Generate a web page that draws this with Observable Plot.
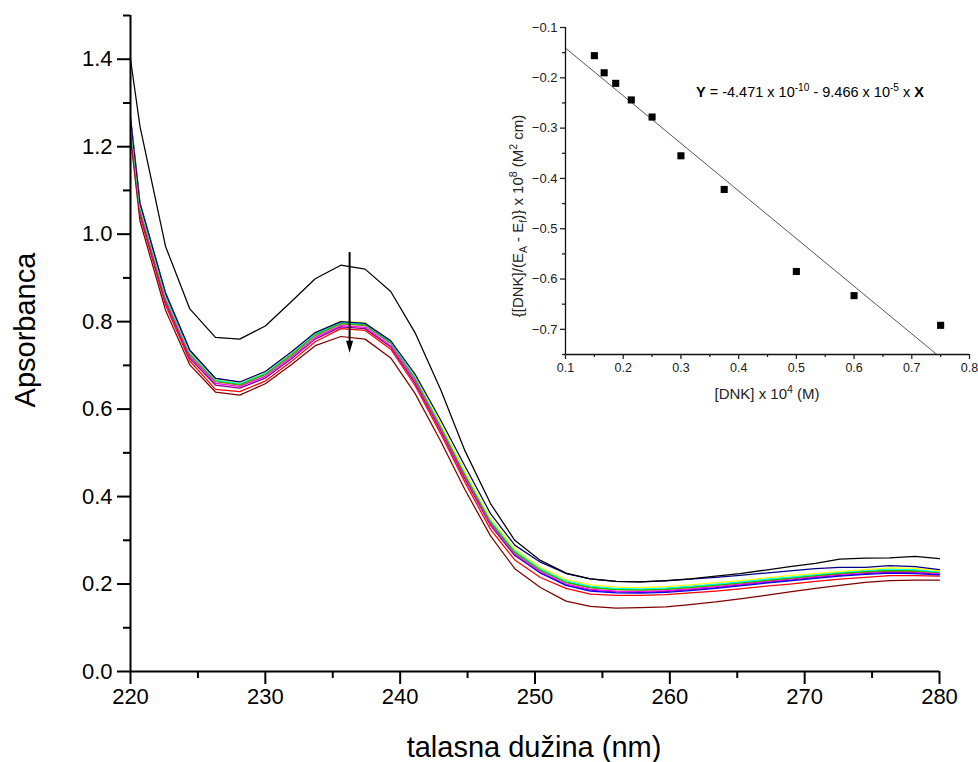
<!DOCTYPE html>
<html>
<head>
<meta charset="utf-8">
<script src="https://cdn.jsdelivr.net/npm/d3@7"></script>
<script src="https://cdn.jsdelivr.net/npm/@observablehq/plot@0.6"></script>
<style>
  html, body { margin: 0; padding: 0; background: #fff; }
  #wrap { position: relative; width: 978px; height: 762px; overflow: hidden; }
  #inset { position: absolute; left: 480px; top: 0px; }
  svg { font-family: "Liberation Sans", Arial, sans-serif; }
</style>
</head>
<body>
<div id="wrap"><div id="main"></div><div id="inset"></div></div>
<script>
// ---------------- main chart data ----------------
const wavelengths = [220.0, 220.7, 222.6, 224.4, 226.3, 228.1, 230.0, 231.9, 233.7, 235.6, 237.4, 239.3, 241.1, 243.0, 244.8, 246.7, 248.5, 250.4, 252.3, 254.1, 256.0, 257.8, 259.7, 261.5, 263.4, 265.2, 267.1, 268.9, 270.8, 272.6, 274.5, 276.3, 278.2, 280.0];

const absBlack  = [1.400, 1.247, 0.972, 0.829, 0.764, 0.760, 0.790, 0.845, 0.898, 0.929, 0.920, 0.869, 0.775, 0.645, 0.505, 0.384, 0.300, 0.254, 0.225, 0.212, 0.206, 0.205, 0.208, 0.212, 0.218, 0.224, 0.232, 0.240, 0.247, 0.257, 0.259, 0.260, 0.263, 0.258];
const absNavy   = [1.265, 1.070, 0.864, 0.734, 0.670, 0.662, 0.686, 0.730, 0.775, 0.800, 0.796, 0.756, 0.680, 0.575, 0.470, 0.361, 0.289, 0.250, 0.224, 0.212, 0.206, 0.205, 0.207, 0.211, 0.215, 0.220, 0.225, 0.230, 0.235, 0.238, 0.238, 0.242, 0.240, 0.233];
const absYellow = [1.262, 1.068, 0.862, 0.732, 0.669, 0.661, 0.685, 0.729, 0.775, 0.801, 0.797, 0.757, 0.678, 0.568, 0.458, 0.350, 0.280, 0.238, 0.210, 0.198, 0.193, 0.192, 0.194, 0.198, 0.203, 0.208, 0.214, 0.219, 0.224, 0.229, 0.233, 0.237, 0.236, 0.230];
const absCyan   = [1.258, 1.064, 0.858, 0.729, 0.667, 0.659, 0.683, 0.727, 0.773, 0.799, 0.795, 0.754, 0.675, 0.565, 0.455, 0.347, 0.277, 0.235, 0.207, 0.195, 0.190, 0.189, 0.191, 0.195, 0.200, 0.205, 0.211, 0.216, 0.222, 0.227, 0.231, 0.234, 0.233, 0.228];
const absGreen  = [1.255, 1.061, 0.856, 0.727, 0.665, 0.657, 0.681, 0.725, 0.771, 0.797, 0.793, 0.752, 0.672, 0.562, 0.452, 0.344, 0.274, 0.233, 0.205, 0.193, 0.188, 0.187, 0.189, 0.193, 0.198, 0.203, 0.209, 0.214, 0.220, 0.225, 0.229, 0.232, 0.231, 0.227];
const absOlive  = [1.252, 1.058, 0.853, 0.724, 0.663, 0.655, 0.679, 0.722, 0.768, 0.795, 0.791, 0.750, 0.669, 0.559, 0.449, 0.341, 0.271, 0.231, 0.203, 0.191, 0.187, 0.186, 0.188, 0.192, 0.197, 0.202, 0.208, 0.213, 0.219, 0.224, 0.228, 0.230, 0.229, 0.226];
const absMagenta= [1.248, 1.054, 0.849, 0.720, 0.659, 0.652, 0.675, 0.718, 0.764, 0.791, 0.787, 0.745, 0.664, 0.555, 0.445, 0.337, 0.268, 0.228, 0.200, 0.188, 0.184, 0.183, 0.185, 0.189, 0.194, 0.200, 0.206, 0.211, 0.217, 0.222, 0.226, 0.229, 0.228, 0.224];
const absPurple = [1.244, 1.050, 0.845, 0.716, 0.655, 0.648, 0.671, 0.714, 0.760, 0.788, 0.784, 0.742, 0.660, 0.551, 0.441, 0.334, 0.265, 0.225, 0.198, 0.186, 0.182, 0.181, 0.183, 0.187, 0.192, 0.198, 0.204, 0.209, 0.215, 0.220, 0.224, 0.227, 0.226, 0.222];
const absBlue   = [1.268, 1.072, 0.866, 0.735, 0.670, 0.661, 0.685, 0.729, 0.774, 0.799, 0.795, 0.755, 0.676, 0.562, 0.448, 0.338, 0.267, 0.226, 0.197, 0.184, 0.180, 0.179, 0.181, 0.185, 0.190, 0.196, 0.202, 0.207, 0.213, 0.218, 0.222, 0.225, 0.224, 0.221];
const absRed    = [1.235, 1.042, 0.838, 0.710, 0.645, 0.640, 0.664, 0.708, 0.754, 0.784, 0.780, 0.737, 0.654, 0.544, 0.433, 0.325, 0.255, 0.215, 0.190, 0.177, 0.174, 0.174, 0.176, 0.180, 0.184, 0.189, 0.195, 0.200, 0.206, 0.211, 0.215, 0.219, 0.219, 0.218];
const absWine   = [1.222, 1.030, 0.826, 0.701, 0.639, 0.632, 0.658, 0.701, 0.745, 0.766, 0.760, 0.717, 0.636, 0.527, 0.416, 0.310, 0.235, 0.192, 0.161, 0.149, 0.145, 0.146, 0.148, 0.153, 0.159, 0.166, 0.174, 0.182, 0.190, 0.197, 0.204, 0.208, 0.209, 0.209];

// drawing order (bottom first) and colours
const seriesValues = [absWine, absRed, absPurple, absBlue, absMagenta, absOlive, absGreen, absCyan, absYellow, absNavy, absBlack];
const seriesColors = ["#800000", "#ff0000", "#800080", "#0000ff", "#ff00ff", "#808000", "#00c800", "#00ffff", "#ffff00", "#000080", "#000000"];

const xMajorTicks = [220, 230, 240, 250, 260, 270, 280];
const xMinorTicks = [225, 235, 245, 255, 265, 275];
const yMajorTicks = [0.0, 0.2, 0.4, 0.6, 0.8, 1.0, 1.2, 1.4];
const yMinorTicks = [0.1, 0.3, 0.5, 0.7, 0.9, 1.1, 1.3, 1.5];

// arrow (wavelength, absorbance top -> tip)
const arrowX = [236.25];
const arrowY = [0.959, 0.729];

// ---------------- inset data ----------------
const dnk      = [0.150, 0.167, 0.187, 0.214, 0.250, 0.300, 0.375, 0.500, 0.600, 0.750];
const ratioY   = [-0.156, -0.190, -0.211, -0.244, -0.278, -0.355, -0.422, -0.585, -0.633, -0.692];
const fitIntercept = -0.0463;
const fitSlope = -0.9466;
const fitRange = [0.1, 0.7434];
const insetXMajor = [0.1, 0.2, 0.3, 0.4, 0.5, 0.6, 0.7, 0.8];
const insetXMinor = [0.15, 0.25, 0.35, 0.45, 0.55, 0.65, 0.75];
const insetYMajor = [-0.7, -0.6, -0.5, -0.4, -0.3, -0.2, -0.1];
const insetYMinor = [-0.75, -0.65, -0.55, -0.45, -0.35, -0.25, -0.15];

// ---------------- main plot ----------------
const lineMarks = seriesValues.map((vals, k) =>
  Plot.line(wavelengths.map((w, i) => ({x: w, y: vals[i]})), {x: "x", y: "y", stroke: seriesColors[k], strokeWidth: 1.25})
);

const arrowHead = {
  draw(ctx) { ctx.moveTo(0, 0); ctx.lineTo(-3.5, -12); ctx.lineTo(3.5, -12); ctx.closePath(); }
};

const main = Plot.plot({
  width: 978, height: 762,
  marginLeft: 130, marginRight: 39, marginTop: 15, marginBottom: 91,
  style: {background: "transparent", fontFamily: "'Liberation Sans', Arial, sans-serif", color: "black"},
  x: {domain: [220, 280]},
  y: {domain: [0, 1.5]},
  marks: [
    ...lineMarks,
    Plot.ruleX([220], {y1: 0, y2: 1.5, stroke: "black", strokeWidth: 2}),
    Plot.ruleY([0], {x1: 220, x2: 280, stroke: "black", strokeWidth: 2}),
    Plot.axisY(yMajorTicks, {tickSize: 13, tickPadding: 5, strokeWidth: 2, fontSize: 22, tickFormat: d3.format(".1f"), label: null}),
    Plot.axisY(yMinorTicks, {tickSize: 7, strokeWidth: 2, tickFormat: () => "", label: null}),
    Plot.axisX(xMajorTicks, {tickSize: 13, tickPadding: 4, strokeWidth: 2, fontSize: 22, tickFormat: d3.format("d"), label: null}),
    Plot.axisX(xMinorTicks, {tickSize: 7, strokeWidth: 2, tickFormat: () => "", label: null}),
    Plot.link([0], {x1: () => arrowX[0], x2: () => arrowX[0], y1: () => arrowY[0], y2: () => arrowY[1] + 0.02, stroke: "black", strokeWidth: 2}),
    Plot.dot([0], {x: () => arrowX[0], y: () => arrowY[1], symbol: arrowHead, fill: "black", stroke: "none", r: 4})
  ]
});
document.getElementById("main").appendChild(main);

const ms = d3.select(main);
ms.append("text").attr("x", 534).attr("y", 757).attr("text-anchor", "middle")
  .attr("font-size", 29).attr("fill", "black").text("talasna dužina (nm)");
ms.append("text").attr("transform", "translate(35,330) rotate(-90)").attr("text-anchor", "middle")
  .attr("font-size", 29).attr("fill", "black").text("Apsorbanca");

// ---------------- inset plot ----------------
const fitLine = fitRange.map(x => ({x, y: fitIntercept + fitSlope * x}));
const insetColor = "#222";
const inset = Plot.plot({
  width: 498, height: 420,
  marginLeft: 85, marginRight: 9, marginTop: 27, marginBottom: 66,
  style: {background: "transparent", fontFamily: "'Liberation Sans', Arial, sans-serif", color: insetColor},
  x: {domain: [0.1, 0.8]},
  y: {domain: [-0.75, -0.1]},
  marks: [
    Plot.line(fitLine, {x: "x", y: "y", stroke: "#444", strokeWidth: 0.9}),
    Plot.dot(dnk.map((x, i) => ({x, y: ratioY[i]})), {x: "x", y: "y", symbol: "square", fill: "black", r: 4}),
    Plot.ruleX([0.1], {y1: -0.75, y2: -0.1, stroke: "#111", strokeWidth: 1.3}),
    Plot.ruleY([-0.75], {x1: 0.1, x2: 0.8, stroke: "#111", strokeWidth: 1.3}),
    Plot.axisY(insetYMajor, {tickSize: 5, tickPadding: 3, strokeWidth: 1.3, fontSize: 13, tickFormat: d3.format(".1f"), label: null}),
    Plot.axisY(insetYMinor, {tickSize: 3, strokeWidth: 1.3, tickFormat: () => "", label: null}),
    Plot.axisX(insetXMajor, {tickSize: 5, tickPadding: 4, strokeWidth: 1.3, fontSize: 12.5, tickFormat: d3.format(".1f"), label: null}),
    Plot.axisX(insetXMinor, {tickSize: 3, strokeWidth: 1.3, tickFormat: () => "", label: null})
  ]
});
document.getElementById("inset").appendChild(inset);

const is = d3.select(inset);
function richText(sel, parts) {
  parts.forEach(p => {
    const t = sel.append("tspan").text(p.t);
    if (p.sup) t.attr("font-size", "70%").attr("dy", -6);
    if (p.sub) t.attr("font-size", "70%").attr("dy", 4);
    if (p.bold) t.attr("font-weight", "bold");
    if (p.back) t.attr("dy", p.back);
  });
}
// x label
const xl = is.append("text").attr("x", 287).attr("y", 399).attr("text-anchor", "middle").attr("font-size", 15).attr("fill", insetColor);
richText(xl, [{t: "[DNK] x 10"}, {t: "4", sup: true}, {t: " (M)", back: 6}]);
// y label
const yl = is.append("text").attr("transform", "translate(43,216) rotate(-90)").attr("text-anchor", "middle").attr("font-size", 15).attr("fill", insetColor);
richText(yl, [{t: "{[DNK]/(E"}, {t: "A", sub: true}, {t: " - E", back: -4}, {t: "f", sub: true}, {t: ")} x 10", back: -4}, {t: "8", sup: true}, {t: " (M", back: 6}, {t: "2", sup: true}, {t: " cm)", back: 6}]);
// equation
const eq = is.append("text").attr("x", 216).attr("y", 97).attr("text-anchor", "start").attr("font-size", 14.5).attr("fill", "black");
richText(eq, [{t: "Y", bold: true}, {t: " = -4.471 x 10"}, {t: "-10", sup: true}, {t: " - 9.466 x 10", back: 6}, {t: "-5", sup: true}, {t: " x ", back: 6}, {t: "X", bold: true}]);
</script>
</body>
</html>
